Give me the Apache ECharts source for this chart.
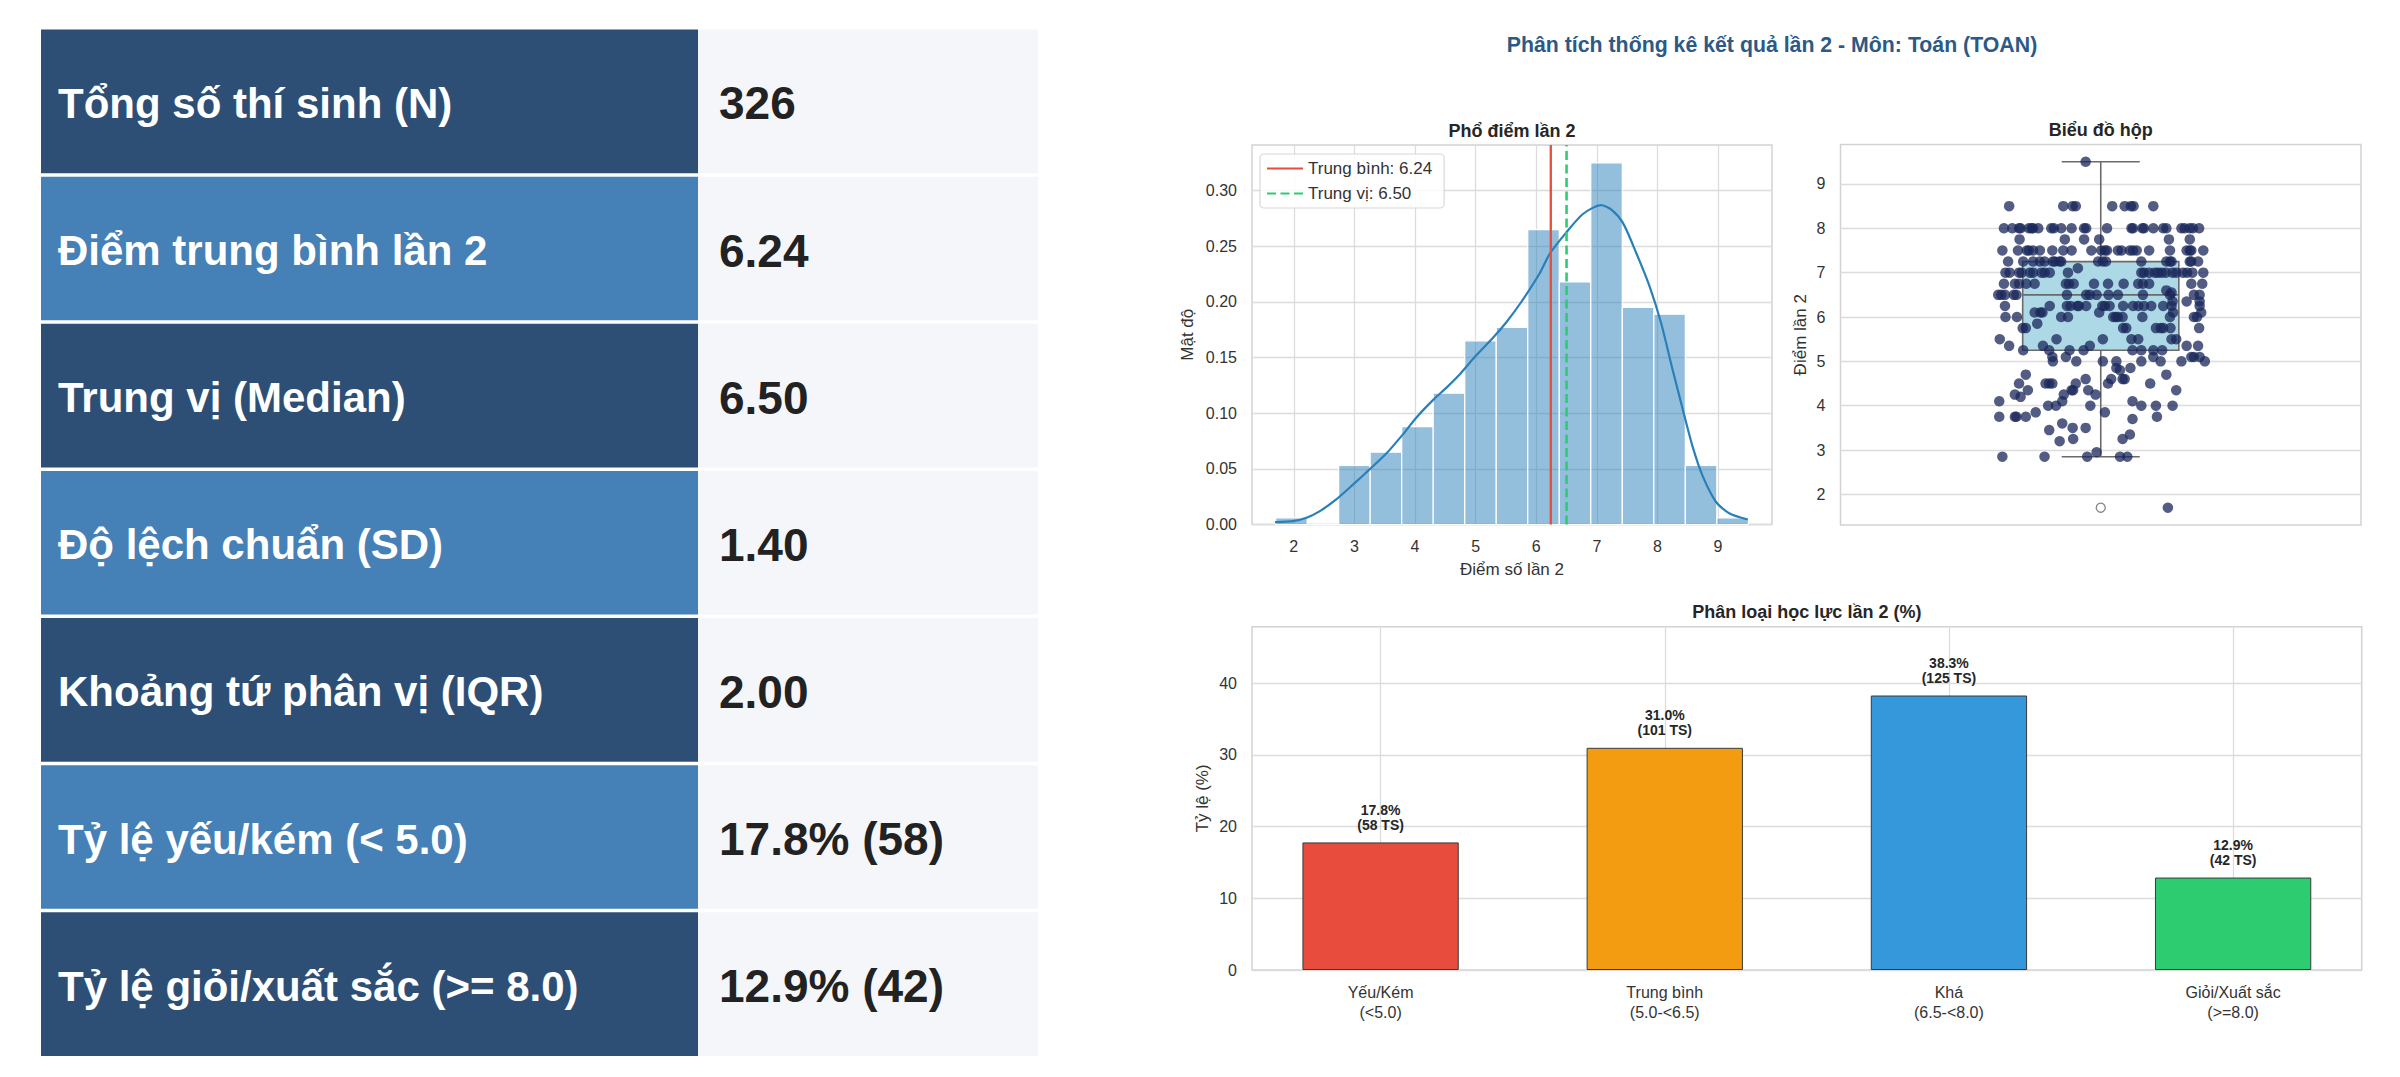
<!DOCTYPE html>
<html><head><meta charset="utf-8">
<script src="https://cdn.jsdelivr.net/npm/echarts@6/dist/echarts.min.js"></script>
<style>html,body{margin:0;padding:0;background:#fff;}#c{width:2400px;height:1077px;}</style>
</head><body><div id="c"></div>
<script>
// ---------- DATA ----------
const statLabels = ['Tổng số thí sinh (N)','Điểm trung bình lần 2','Trung vị (Median)','Độ lệch chuẩn (SD)','Khoảng tứ phân vị (IQR)','Tỷ lệ yếu/kém (< 5.0)','Tỷ lệ giỏi/xuất sắc (>= 8.0)'];
const statValues = ['326','6.24','6.50','1.40','2.00','17.8% (58)','12.9% (42)'];

const binEdges = [1.7,2.22,2.74,3.26,3.78,4.30,4.82,5.34,5.86,6.38,6.90,7.42,7.94,8.46,8.98,9.5];
const binDensity = [0.006,0,0.053,0.065,0.088,0.118,0.165,0.177,0.265,0.218,0.325,0.195,0.189,0.053,0.006];
const kdeX = [1.69,1.99,2.21,2.43,2.70,2.98,3.25,3.53,3.80,4.02,4.30,4.52,4.74,5.01,5.29,5.51,5.75,6.06,6.22,6.49,6.77,7.07,7.24,7.43,7.65,7.87,8.06,8.25,8.42,8.58,8.75,8.97,9.19,9.49];
const kdeY = [0.0021,0.003,0.006,0.012,0.0225,0.036,0.0495,0.064,0.081,0.096,0.112,0.123,0.135,0.152,0.168,0.182,0.1997,0.226,0.243,0.262,0.279,0.287,0.283,0.271,0.244,0.214,0.181,0.139,0.103,0.070,0.043,0.020,0.0099,0.0045];
const meanScore = 6.24;
const medianScore = 6.50;
const histXTicks = [2,3,4,5,6,7,8,9];
const histYTicks = [0,0.05,0.10,0.15,0.20,0.25,0.30];

const boxStats = [2.85,5.25,6.5,7.25,9.5]; // whisker low, Q1, median, Q3, whisker high
const boxOutliers = [1.7];
const boxYTicks = [2,3,4,5,6,7,8,9];
const stripRows = [
[9.5,[-0.029]],
[8.5,[-0.176,-0.072,-0.054,-0.048,0.022,0.046,0.058,0.063,0.101]],
[8.0,[-0.186,-0.170,-0.157,-0.154,-0.138,-0.133,-0.130,-0.120,-0.095,-0.090,-0.076,-0.056,-0.032,-0.028,0.012,0.059,0.062,0.080,0.083,0.101,0.120,0.126,0.155,0.161,0.171,0.177,0.189]],
[7.75,[-0.156,-0.069,-0.032,-0.003,0.131,0.171]],
[7.5,[-0.189,-0.159,-0.142,-0.138,-0.130,-0.117,-0.093,-0.072,-0.056,-0.018,0.001,0.008,0.012,0.033,0.040,0.056,0.062,0.069,0.093,0.133,0.165,0.171,0.174,0.197]],
[7.25,[-0.178,-0.149,-0.130,-0.117,-0.108,-0.092,-0.088,-0.079,-0.076,-0.005,0.004,0.010,0.078,0.126,0.133,0.136,0.171,0.174,0.187]],
[7.1,[-0.044]],
[7.0,[-0.183,-0.175,-0.157,-0.152,-0.136,-0.130,-0.114,-0.108,-0.098,-0.063,0.078,0.083,0.093,0.104,0.110,0.117,0.125,0.138,0.145,0.158,0.166,0.176,0.197]],
[6.75,[-0.186,-0.165,-0.157,-0.143,-0.127,-0.067,-0.061,-0.052,-0.013,0.014,0.044,0.072,0.081,0.093,0.174,0.195]],
[6.6,[0.126]],
[6.55,[0.136]],
[6.5,[-0.197,-0.191,-0.184,-0.167,-0.162,-0.065,-0.028,-0.021,-0.008,0.015,0.033,0.081,0.133,0.179,0.190]],
[6.35,[0.138,0.165,0.190]],
[6.25,[-0.184,-0.098,-0.065,-0.058,-0.045,-0.042,-0.028,0.003,0.008,0.017,0.043,0.062,0.072,0.083,0.097,0.120,0.136,0.190]],
[6.1,[-0.127,-0.116,-0.112,-0.003,0.139,0.193]],
[6.0,[-0.183,-0.161,-0.076,-0.063,0.024,0.029,0.033,0.042,0.080,0.133,0.179,0.185]],
[5.85,[-0.122]],
[5.75,[-0.150,-0.144,0.043,0.049,0.106,0.115,0.120,0.134,0.189]],
[5.5,[-0.194,-0.085,0.004,0.059,0.072,0.136,0.145]],
[5.35,[-0.176,-0.111,-0.021,0.165,0.187]],
[5.25,[-0.149,-0.099,-0.060,-0.033,0.061,0.078,0.101,0.118]],
[5.1,[-0.093,-0.067,0.101,0.174,0.179,0.190]],
[5.0,[-0.092,-0.047,0.004,0.030,0.078,0.115,0.155,0.200]],
[4.85,[0.030,0.057]],
[4.8,[0.037]],
[4.7,[-0.144,0.126]],
[4.6,[-0.029,0.020,0.042,0.046]],
[4.5,[-0.157,-0.106,-0.099,-0.093,-0.048,0.014,0.095]],
[4.35,[-0.140,-0.056,-0.053,-0.024,0.145]],
[4.25,[-0.165,-0.071,-0.010]],
[4.2,[-0.154]],
[4.1,[-0.195,-0.074,0.061]],
[4.0,[-0.101,-0.086,-0.020,0.078,0.106,0.138]],
[3.85,[-0.125,0.008]],
[3.75,[-0.195,-0.165,-0.162,-0.144,0.108]],
[3.7,[0.061]],
[3.6,[-0.074]],
[3.5,[-0.054,-0.029]],
[3.45,[-0.099]],
[3.35,[0.056]],
[3.25,[-0.053,0.042]],
[3.2,[-0.079]],
[2.95,[-0.008]],
[2.85,[-0.189,-0.108,-0.026,0.037,0.051]],
[1.7,[0.129]]
];

const catLabels = ['Yếu/Kém\n(<5.0)','Trung bình\n(5.0-<6.5)','Khá\n(6.5-<8.0)','Giỏi/Xuất sắc\n(>=8.0)'];
const catPercent = [17.8,31.0,38.3,12.9];
const catCount = [58,101,125,42];
const barYTicks = [0,10,20,30,40];

// ---------- STYLE ----------
const FONT = '"Liberation Sans", Arial, Helvetica, sans-serif';
const catColors = ['#e74c3c','#f39c12','#3498db','#2ecc71'];
const GRID_LINE = '#dcdcdc';
const FRAME = '#d2d2d2';
const TICK_COLOR = '#333';

// ---------- LAYOUT ----------
const G_HIST = {left:1252, top:145, width:520, height:379.5};
const G_BOX  = {left:1840.5, top:144.5, width:520.5, height:380.5};
const G_BAR  = {left:1252, top:626.7, width:1109.7, height:343.3};
const barXMin = -0.4525, barXMax = 3.4525;

// ---------- TABLE (graphic) ----------
const tableX = 41, labelW = 657, valueW = 340, tableTop = 29.6, tableBottom = 1056, rowGap = 3.5;
const rowH = (tableBottom - tableTop - rowGap*(statLabels.length-1)) / statLabels.length;
const graphics = [];
statLabels.forEach((lab, i) => {
  const y = tableTop + i*(rowH + rowGap);
  graphics.push({type:'rect', shape:{x:tableX, y:y, width:labelW, height:rowH}, style:{fill: i%2===0 ? '#2d4f76' : '#4580b6'}, silent:true});
  graphics.push({type:'rect', shape:{x:tableX+labelW, y:y, width:valueW, height:rowH}, style:{fill:'#f5f6fa'}, silent:true});
  graphics.push({type:'text', x:58, y:y+rowH/2+2, style:{text:lab, fill:'#ffffff', fontSize:42, fontWeight:'bold', fontFamily:FONT, align:'left', verticalAlign:'middle'}, silent:true});
  graphics.push({type:'text', x:719, y:y+rowH/2+2, style:{text:statValues[i], fill:'#222222', fontSize:46, fontWeight:'bold', fontFamily:FONT, align:'left', verticalAlign:'middle'}, silent:true});
});
// titles
function titleText(txt, x, y, size, color){
  graphics.push({type:'text', x:x, y:y, style:{text:txt, fill:color, fontSize:size, fontWeight:'bold', fontFamily:FONT, align:'center', verticalAlign:'middle'}, silent:true});
}
titleText('Phân tích thống kê kết quả lần 2 - Môn: Toán (TOAN)', 1772, 45, 21.3, '#2c5985');
titleText('Phổ điểm lần 2', G_HIST.left + G_HIST.width/2, 131, 18, '#262626');
titleText('Biểu đồ hộp', G_BOX.left + G_BOX.width/2, 130, 18, '#262626');
titleText('Phân loại học lực lần 2 (%)', G_BAR.left + G_BAR.width/2, 612, 18, '#262626');

// ---------- derived series data ----------
const histData = binDensity.map((d,i) => [binEdges[i], binEdges[i+1], d]);
const kdeData = kdeX.map((x,i) => [x, kdeY[i]]);
const stripData = [];
stripRows.forEach(([score, jit]) => jit.forEach(j => stripData.push([j, score])));
const barData = catPercent.map((p,i) => ({value:[i, p], itemStyle:{color:catColors[i]}}));

const axisLabelBase = {color:TICK_COLOR, fontSize:16, fontFamily:FONT};
const splitLine = {show:true, lineStyle:{color:GRID_LINE, width:1.3}};
const histYMax = 0.341, boxYMin = 1.31, boxYMax = 9.89, barYMax = 47.9;
const barPxWidth = 0.55 * G_BAR.width / (barXMax - barXMin);

const option = {
  animation:false,
  backgroundColor:'#ffffff',
  textStyle:{fontFamily:FONT},
  graphic: graphics,
  legend: {
    show:true, orient:'vertical', left:1260, top:154,
    data:['Trung bình: 6.24','Trung vị: 6.50'],
    itemWidth:36, itemHeight:14, itemGap:8,
    itemStyle:{opacity:0},
    padding:[6,12,6,6], borderColor:'#d8d8d8', borderWidth:1.2, borderRadius:4,
    backgroundColor:'rgba(255,255,255,0.85)',
    textStyle:{color:'#333', fontSize:17, fontFamily:FONT}
  },
  grid: [
    Object.assign({show:true, borderColor:FRAME, borderWidth:1.5, outerBoundsMode:'none'}, G_HIST),
    Object.assign({show:true, borderColor:FRAME, borderWidth:1.5, outerBoundsMode:'none'}, G_BOX),
    Object.assign({show:true, borderColor:FRAME, borderWidth:1.5, outerBoundsMode:'none'}, G_BAR)
  ],
  xAxis: [
    {gridIndex:0, type:'value', min:binEdges[0]-0.05*(binEdges[binEdges.length-1]-binEdges[0]), max:binEdges[binEdges.length-1]+0.05*(binEdges[binEdges.length-1]-binEdges[0]),
     axisLine:{show:false}, axisTick:{show:false, customValues:histXTicks},
     axisLabel:Object.assign({customValues:histXTicks, margin:14, formatter:v=>String(v)}, axisLabelBase),
     splitLine:splitLine,
     name:'Điểm số lần 2', nameLocation:'middle', nameGap:36, nameTextStyle:{color:'#333', fontSize:17, fontFamily:FONT}},
    {gridIndex:1, type:'value', min:-0.5, max:0.5, show:true,
     axisLine:{show:false}, axisTick:{show:false}, axisLabel:{show:false}, splitLine:{show:false}},
    {gridIndex:2, type:'value', min:barXMin, max:barXMax,
     axisLine:{show:false}, axisTick:{show:false, customValues:[0,1,2,3]},
     axisLabel:Object.assign({customValues:[0,1,2,3], margin:12, lineHeight:20, formatter:v=>catLabels[Math.round(v)]}, axisLabelBase),
     splitLine:splitLine}
  ],
  yAxis: [
    {gridIndex:0, type:'value', min:0, max:histYMax,
     axisLine:{show:false}, axisTick:{show:false, customValues:histYTicks},
     axisLabel:Object.assign({customValues:histYTicks, margin:15, formatter:v=>v.toFixed(2)}, axisLabelBase),
     splitLine:splitLine,
     name:'Mật độ', nameLocation:'middle', nameGap:56, nameTextStyle:{color:'#333', fontSize:17, fontFamily:FONT}},
    {gridIndex:1, type:'value', min:boxYMin, max:boxYMax,
     axisLine:{show:false}, axisTick:{show:false, customValues:boxYTicks},
     axisLabel:Object.assign({customValues:boxYTicks, margin:15, formatter:v=>String(v)}, axisLabelBase),
     splitLine:splitLine,
     name:'Điểm lần 2', nameLocation:'middle', nameGap:32, nameTextStyle:{color:'#333', fontSize:17, fontFamily:FONT}},
    {gridIndex:2, type:'value', min:0, max:barYMax,
     axisLine:{show:false}, axisTick:{show:false, customValues:barYTicks},
     axisLabel:Object.assign({customValues:barYTicks, margin:15, formatter:v=>String(v)}, axisLabelBase),
     splitLine:splitLine,
     name:'Tỷ lệ (%)', nameLocation:'middle', nameGap:41, nameTextStyle:{color:'#333', fontSize:17, fontFamily:FONT}}
  ],
  series: [
    {type:'custom', xAxisIndex:0, yAxisIndex:0, data:histData, encode:{x:[0,1], y:2}, z:2,
     renderItem:(params, api) => {
       const p0 = api.coord([api.value(0), api.value(2)]);
       const p1 = api.coord([api.value(1), 0]);
       return {type:'rect', shape:{x:p0[0], y:p0[1], width:p1[0]-p0[0], height:p1[1]-p0[1]},
               style:{fill:'rgba(41,128,185,0.5)', stroke:'#ffffff', lineWidth:1.2}};
     }},
    {type:'line', xAxisIndex:0, yAxisIndex:0, data:kdeData, smooth:0.25, symbol:'none', z:3,
     lineStyle:{color:'#2980b9', width:2.2}},
    {name:'Trung bình: 6.24', type:'line', xAxisIndex:0, yAxisIndex:0, data:[[meanScore,0],[meanScore,histYMax]], symbol:'none', z:4,
     lineStyle:{color:'#e74c3c', width:2.3}, itemStyle:{color:'#e74c3c'}},
    {name:'Trung vị: 6.50', type:'line', xAxisIndex:0, yAxisIndex:0, data:[[medianScore,0],[medianScore,histYMax]], symbol:'none', z:4,
     lineStyle:{color:'#2ecc71', width:2.6, type:[9,4.5]}, itemStyle:{color:'#2ecc71'}},

    {type:'custom', xAxisIndex:1, yAxisIndex:1, data:[[0].concat(boxStats)], encode:{x:0, y:[1,2,3,4,5]}, z:2,
     renderItem:(params, api) => {
       const c = api.value(0);
       const mn = api.value(1), q1 = api.value(2), md = api.value(3), q3 = api.value(4), mx = api.value(5);
       const hw = 0.15, cw = 0.075;
       const tl = api.coord([c-hw, q3]), br = api.coord([c+hw, q1]);
       const mL = api.coord([c-hw, md]), mR = api.coord([c+hw, md]);
       const wTop = api.coord([c, mx]), wQ3 = api.coord([c, q3]), wQ1 = api.coord([c, q1]), wBot = api.coord([c, mn]);
       const cTL = api.coord([c-cw, mx]), cTR = api.coord([c+cw, mx]);
       const cBL = api.coord([c-cw, mn]), cBR = api.coord([c+cw, mn]);
       const ls = {stroke:'#6b6b6b', lineWidth:1.6};
       return {type:'group', children:[
         {type:'line', shape:{x1:wTop[0], y1:wTop[1], x2:wQ3[0], y2:wQ3[1]}, style:ls},
         {type:'line', shape:{x1:wQ1[0], y1:wQ1[1], x2:wBot[0], y2:wBot[1]}, style:ls},
         {type:'line', shape:{x1:cTL[0], y1:cTL[1], x2:cTR[0], y2:cTR[1]}, style:ls},
         {type:'line', shape:{x1:cBL[0], y1:cBL[1], x2:cBR[0], y2:cBR[1]}, style:ls},
         {type:'rect', shape:{x:tl[0], y:tl[1], width:br[0]-tl[0], height:br[1]-tl[1]}, style:{fill:'#add8e6', stroke:'#6b6b6b', lineWidth:1.6}},
         {type:'line', shape:{x1:mL[0], y1:mL[1], x2:mR[0], y2:mR[1]}, style:ls}
       ]};
     }},
    {type:'scatter', xAxisIndex:1, yAxisIndex:1, data:boxOutliers.map(v=>[0,v]), symbol:'circle', symbolSize:9, z:3,
     itemStyle:{color:'#ffffff', borderColor:'#666', borderWidth:1.3}},
    {type:'scatter', xAxisIndex:1, yAxisIndex:1, data:stripData, symbol:'circle', symbolSize:10.5, z:4,
     itemStyle:{color:'#1a275a', opacity:0.75}},

    {type:'bar', xAxisIndex:2, yAxisIndex:2, data:barData, barWidth:barPxWidth, z:3,
     itemStyle:{borderColor:'#3a3a3a', borderWidth:1},
     label:{show:true, position:'top', distance:10, color:'#262626', fontSize:14, fontWeight:'bold', lineHeight:15, fontFamily:FONT,
            formatter:p => catPercent[p.dataIndex].toFixed(1) + '%\n(' + catCount[p.dataIndex] + ' TS)'}}
  ]
};

const chart = echarts.init(document.getElementById('c'), null, {renderer:'svg', width:2400, height:1077});
chart.setOption(option);
</script>
</body></html>
